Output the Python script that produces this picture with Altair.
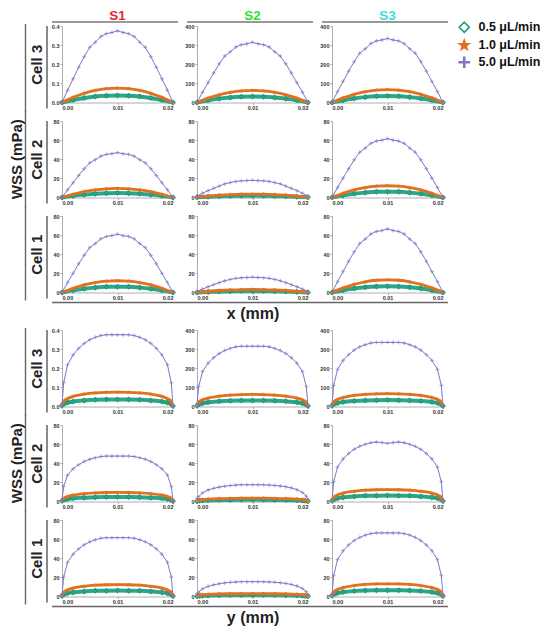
import altair as alt
import pandas as pd

FONT = "Liberation Sans"
SERIES = ["0.5 μL/min", "1.0 μL/min", "5.0 μL/min"]
COLS = ["S1", "S2", "S3"]
ROWS = ["Cell 3", "Cell 2", "Cell 1"]
HEADER_COLORS = ["#e8242c", "#2fe22f", "#3ddbe0"]
SECTION_TITLES = ["x (mm)", "y (mm)"]

X_TICKS = [0, 0.01, 0.02]
Y_TICKS_S1C3 = [0, 0.1, 0.2, 0.3, 0.4]
Y_TICKS_C3 = [0, 100, 200, 300, 400]
Y_TICKS_C12 = [0, 20, 40, 60, 80]

# sampling positions (mm)
GX_HI = [0.000, 0.001, 0.002, 0.003, 0.004, 0.005, 0.006, 0.007, 0.008, 0.009, 0.010,
         0.011, 0.012, 0.013, 0.014, 0.015, 0.016, 0.017, 0.018, 0.019, 0.020]
GX_LO = [0.000, 0.002, 0.004, 0.006, 0.008, 0.010, 0.012, 0.014, 0.016, 0.018, 0.020]
GY_HI = [0.0000, 0.0003, 0.0010, 0.0020, 0.0030, 0.0040, 0.0050, 0.0060, 0.0070, 0.0080,
         0.0090, 0.0100, 0.0110, 0.0120, 0.0130, 0.0140, 0.0150, 0.0160, 0.0170, 0.0180,
         0.0190, 0.0197, 0.0200]
GY_LO = [0.0000, 0.0005, 0.0010, 0.0020, 0.0040, 0.0060, 0.0080, 0.0100, 0.0120, 0.0140,
         0.0160, 0.0180, 0.0190, 0.0195, 0.0200]

# ---- x profiles ----
x_S1_C3_50 = [0, .064, .124, .184, .240, .289, .315, .345, .360, .366, .375, .366, .360, .345, .315, .289, .240, .184, .124, .064, 0]
x_S1_C3_10 = [0, .027, .048, .063, .072, .075, .072, .063, .048, .027, 0]
x_S1_C3_05 = [0, .0133, .0237, .0311, .0355, .037, .0355, .0311, .0237, .0133, 0]

x_S1_C2_50 = [0, 8.0, 15.5, 23.0, 30.1, 36.2, 39.5, 43.2, 45.1, 45.8, 47.0, 45.8, 45.1, 43.2, 39.5, 36.2, 30.1, 23.0, 15.5, 8.0, 0]
x_S1_C2_10 = [0, 3.4, 6.1, 8.0, 9.1, 9.5, 9.1, 8.0, 6.1, 3.4, 0]
x_S1_C2_05 = [0, 1.7, 3.0, 3.9, 4.5, 4.7, 4.5, 3.9, 3.0, 1.7, 0]

x_S1_C1_50 = [0, 10.4, 20.1, 29.9, 39.0, 47.0, 51.2, 56.1, 58.6, 59.5, 61.0, 59.5, 58.6, 56.1, 51.2, 47.0, 39.0, 29.9, 20.1, 10.4, 0]
x_S1_C1_10 = [0, 4.4, 7.9, 10.3, 11.8, 12.3, 11.8, 10.3, 7.9, 4.4, 0]
x_S1_C1_05 = [0, 2.2, 3.9, 5.1, 5.9, 6.1, 5.9, 5.1, 3.9, 2.2, 0]

x_S2_C3_50 = [0, 53.6, 104, 154, 202, 243, 265, 290, 302, 307, 315, 307, 302, 290, 265, 243, 202, 154, 104, 53.6, 0]
x_S2_C3_10 = [0, 22.7, 40.3, 52.9, 60.5, 63.0, 60.5, 52.9, 40.3, 22.7, 0]
x_S2_C3_05 = [0, 11.3, 20.2, 26.5, 30.2, 31.5, 30.2, 26.5, 20.2, 11.3, 0]

x_S2_C2_50 = [1.5, 4.5, 7.2, 9.6, 11.9, 14.2, 15.6, 16.8, 17.4, 17.7, 18.0, 17.7, 17.4, 16.8, 15.6, 14.2, 11.9, 9.6, 7.2, 4.5, 1.5]
x_S2_C2_10 = [0.3, 1.5, 2.4, 3.1, 3.5, 3.6, 3.5, 3.1, 2.4, 1.5, 0.3]
x_S2_C2_05 = [0.15, 0.75, 1.2, 1.55, 1.75, 1.8, 1.75, 1.55, 1.2, 0.75, 0.15]

x_S2_C1_50 = [1.0, 3.6, 6.0, 8.2, 10.3, 12.3, 13.7, 14.8, 15.4, 15.7, 16.0, 15.7, 15.4, 14.8, 13.7, 12.3, 10.3, 8.2, 6.0, 3.6, 1.0]
x_S2_C1_10 = [0.2, 1.3, 2.1, 2.7, 3.1, 3.2, 3.1, 2.7, 2.1, 1.3, 0.2]
x_S2_C1_05 = [0.1, 0.65, 1.05, 1.35, 1.55, 1.6, 1.55, 1.35, 1.05, 0.65, 0.1]

x_S3_C3_50 = [0, 57, 110.5, 164, 214, 258, 281, 308, 322, 327, 335, 327, 322, 308, 281, 258, 214, 164, 110.5, 57, 0]
x_S3_C3_10 = [0, 24.1, 42.9, 56.3, 64.3, 67.0, 64.3, 56.3, 42.9, 24.1, 0]
x_S3_C3_05 = [0, 12.1, 21.4, 28.1, 32.2, 33.5, 32.2, 28.1, 21.4, 12.1, 0]

x_S3_C2_50 = [0, 10.5, 20.3, 30.1, 39.4, 47.4, 51.7, 56.6, 59.0, 60.0, 61.5, 60.0, 59.0, 56.6, 51.7, 47.4, 39.4, 30.1, 20.3, 10.5, 0]
x_S3_C2_10 = [0, 4.4, 7.9, 10.3, 11.8, 12.3, 11.8, 10.3, 7.9, 4.4, 0]
x_S3_C2_05 = [0, 2.2, 3.9, 5.1, 5.9, 6.1, 5.9, 5.1, 3.9, 2.2, 0]

x_S3_C1_50 = [0, 11.3, 21.9, 32.6, 42.6, 51.2, 55.9, 61.2, 63.8, 64.8, 66.5, 64.8, 63.8, 61.2, 55.9, 51.2, 42.6, 32.6, 21.9, 11.3, 0]
x_S3_C1_10 = [0, 4.8, 8.5, 11.2, 12.8, 13.3, 12.8, 11.2, 8.5, 4.8, 0]
x_S3_C1_05 = [0, 2.4, 4.2, 5.5, 6.3, 6.6, 6.3, 5.5, 4.2, 2.4, 0]

# ---- y profiles ----
y_S1_C3_50 = [.0075, .124, .218, .270, .304, .330, .349, .362, .371, .375, .375, .375, .375, .375, .371, .362, .349, .330, .304, .270, .218, .124, 0]
y_S1_C3_10 = [.011, .032, .041, .053, .065, .071, .074, .075, .074, .071, .065, .053, .041, .032, .006]
y_S1_C3_05 = [.0056, .0155, .0204, .0259, .0318, .0352, .0366, .037, .0366, .0352, .0318, .0259, .0204, .0155, .003]

y_S1_C2_50 = [0.95, 15.7, 27.6, 34.2, 38.5, 41.8, 44.2, 45.8, 47.0, 47.5, 47.5, 47.5, 47.5, 47.5, 47.0, 45.8, 44.2, 41.8, 38.5, 34.2, 27.6, 15.7, 0]
y_S1_C2_10 = [1.4, 4.0, 5.2, 6.7, 8.2, 9.0, 9.4, 9.5, 9.4, 9.0, 8.2, 6.7, 5.2, 4.0, 0.8]
y_S1_C2_05 = [0.7, 2.0, 2.6, 3.3, 4.0, 4.5, 4.65, 4.7, 4.65, 4.5, 4.0, 3.3, 2.6, 2.0, 0.4]

y_S1_C1_50 = [1.2, 20.3, 35.7, 44.3, 49.8, 54.1, 57.2, 59.3, 60.9, 61.5, 61.5, 61.5, 61.5, 61.5, 60.9, 59.3, 57.2, 54.1, 49.8, 44.3, 35.7, 20.3, 0]
y_S1_C1_10 = [1.9, 5.2, 6.8, 8.7, 10.7, 11.8, 12.3, 12.4, 12.3, 11.8, 10.7, 8.7, 6.8, 5.2, 1.0]
y_S1_C1_05 = [0.9, 2.6, 3.4, 4.3, 5.3, 5.9, 6.1, 6.2, 6.1, 5.9, 5.3, 4.3, 3.4, 2.6, 0.5]

y_S2_C3_50 = [6.3, 104, 183, 227, 255, 277, 293, 304, 312, 315, 315, 315, 315, 315, 312, 304, 293, 277, 255, 227, 183, 104, 0]
y_S2_C3_10 = [9.5, 26.5, 34.7, 44.1, 54.2, 59.9, 62.4, 63.0, 62.4, 59.9, 54.2, 44.1, 34.7, 26.5, 5.0]
y_S2_C3_05 = [4.7, 13.2, 17.3, 22.1, 27.1, 29.9, 31.2, 31.5, 31.2, 29.9, 27.1, 22.1, 17.3, 13.2, 2.5]

y_S2_C2_50 = [3.0, 5.0, 9.0, 12.0, 13.8, 15.0, 16.0, 16.7, 17.2, 17.5, 17.5, 17.5, 17.5, 17.4, 17.2, 16.8, 16.2, 15.4, 14.2, 12.4, 9.5, 5.5, 2.0]
y_S2_C2_10 = [0.6, 1.5, 1.9, 2.45, 3.0, 3.3, 3.45, 3.5, 3.45, 3.3, 3.0, 2.45, 1.9, 1.5, 0.4]
y_S2_C2_05 = [0.3, 0.75, 0.95, 1.2, 1.5, 1.65, 1.73, 1.75, 1.73, 1.65, 1.5, 1.2, 0.95, 0.75, 0.2]

y_S2_C1_50 = [2.6, 4.4, 8.0, 10.6, 12.2, 13.3, 14.2, 14.8, 15.2, 15.5, 15.5, 15.5, 15.5, 15.4, 15.2, 14.9, 14.4, 13.6, 12.6, 11.0, 8.4, 4.9, 1.8]
y_S2_C1_10 = [0.5, 1.3, 1.7, 2.2, 2.7, 2.9, 3.05, 3.1, 3.05, 2.9, 2.7, 2.2, 1.7, 1.3, 0.3]
y_S2_C1_05 = [0.25, 0.65, 0.85, 1.1, 1.35, 1.47, 1.53, 1.55, 1.53, 1.47, 1.35, 1.1, 0.85, 0.65, 0.15]

y_S3_C3_50 = [6.7, 111, 194, 241, 271, 295, 312, 323, 332, 335, 335, 335, 335, 335, 332, 323, 312, 295, 271, 241, 194, 111, 0]
y_S3_C3_10 = [10.0, 28.1, 36.9, 46.9, 57.6, 63.7, 66.3, 67.0, 66.3, 63.7, 57.6, 46.9, 36.9, 28.1, 5.4]
y_S3_C3_05 = [5.0, 14.1, 18.4, 23.5, 28.8, 31.8, 33.2, 33.5, 33.2, 31.8, 28.8, 23.5, 18.4, 14.1, 2.7]

y_S3_C2_50 = [1.2, 20.5, 36.0, 44.6, 50.2, 54.6, 57.7, 59.8, 61.4, 62.2, 61.6, 60.8, 61.6, 62.2, 61.4, 59.8, 57.7, 54.6, 50.2, 44.6, 36.0, 20.5, 0]
y_S3_C2_10 = [1.9, 5.2, 6.8, 8.7, 10.7, 11.8, 12.3, 12.4, 12.3, 11.8, 10.7, 8.7, 6.8, 5.2, 1.0]
y_S3_C2_05 = [0.9, 2.6, 3.4, 4.3, 5.3, 5.9, 6.1, 6.2, 6.1, 5.9, 5.3, 4.3, 3.4, 2.6, 0.5]

y_S3_C1_50 = [1.3, 21.9, 38.6, 47.9, 53.9, 58.5, 61.8, 64.2, 65.8, 66.5, 66.5, 66.5, 66.5, 66.5, 65.8, 64.2, 61.8, 58.5, 53.9, 47.9, 38.6, 21.9, 0]
y_S3_C1_10 = [2.0, 5.6, 7.3, 9.3, 11.4, 12.6, 13.2, 13.3, 13.2, 12.6, 11.4, 9.3, 7.3, 5.6, 1.1]
y_S3_C1_05 = [1.0, 2.8, 3.6, 4.6, 5.7, 6.3, 6.5, 6.6, 6.5, 6.3, 5.7, 4.6, 3.6, 2.8, 0.5]

CURVES = {
    ("x", "S1", "Cell 3"): (x_S1_C3_05, x_S1_C3_10, x_S1_C3_50),
    ("x", "S1", "Cell 2"): (x_S1_C2_05, x_S1_C2_10, x_S1_C2_50),
    ("x", "S1", "Cell 1"): (x_S1_C1_05, x_S1_C1_10, x_S1_C1_50),
    ("x", "S2", "Cell 3"): (x_S2_C3_05, x_S2_C3_10, x_S2_C3_50),
    ("x", "S2", "Cell 2"): (x_S2_C2_05, x_S2_C2_10, x_S2_C2_50),
    ("x", "S2", "Cell 1"): (x_S2_C1_05, x_S2_C1_10, x_S2_C1_50),
    ("x", "S3", "Cell 3"): (x_S3_C3_05, x_S3_C3_10, x_S3_C3_50),
    ("x", "S3", "Cell 2"): (x_S3_C2_05, x_S3_C2_10, x_S3_C2_50),
    ("x", "S3", "Cell 1"): (x_S3_C1_05, x_S3_C1_10, x_S3_C1_50),
    ("y", "S1", "Cell 3"): (y_S1_C3_05, y_S1_C3_10, y_S1_C3_50),
    ("y", "S1", "Cell 2"): (y_S1_C2_05, y_S1_C2_10, y_S1_C2_50),
    ("y", "S1", "Cell 1"): (y_S1_C1_05, y_S1_C1_10, y_S1_C1_50),
    ("y", "S2", "Cell 3"): (y_S2_C3_05, y_S2_C3_10, y_S2_C3_50),
    ("y", "S2", "Cell 2"): (y_S2_C2_05, y_S2_C2_10, y_S2_C2_50),
    ("y", "S2", "Cell 1"): (y_S2_C1_05, y_S2_C1_10, y_S2_C1_50),
    ("y", "S3", "Cell 3"): (y_S3_C3_05, y_S3_C3_10, y_S3_C3_50),
    ("y", "S3", "Cell 2"): (y_S3_C2_05, y_S3_C2_10, y_S3_C2_50),
    ("y", "S3", "Cell 1"): (y_S3_C1_05, y_S3_C1_10, y_S3_C1_50),
}

TEAL, ORANGE, PURPLE = "#2fa68b", "#e2701f", "#7d77c9"
STAR = "M0,-1L0.235,-0.324L0.951,-0.309L0.38,0.124L0.588,0.809L0,0.4L-0.588,0.809L-0.38,0.124L-0.951,-0.309L-0.235,-0.324Z"
PLUS = "M-1,-0.1H1V0.1H-1Z M-0.1,-1H0.1V1H-0.1Z"

W, H = 111, 76.5
GAP_COL, GAP_ROW = 24, 18

LEG = alt.Legend(title=None, orient="none", legendX=396, legendY=-5, labelFontSize=12.5,
                 labelFont=FONT, labelFontWeight="bold", labelColor="#111", symbolSize=100,
                 symbolStrokeWidth=1.6, rowPadding=1, labelOffset=8, padding=0)
SHAPE = alt.Shape("series:N", scale=alt.Scale(domain=SERIES, range=["diamond", STAR, PLUS]), legend=LEG)
FILL = alt.Fill("series:N", scale=alt.Scale(domain=SERIES, range=["#ffffff", ORANGE, PURPLE]), legend=LEG)
STROKE = alt.Stroke("series:N", scale=alt.Scale(domain=SERIES, range=["#1b9c77", ORANGE, PURPLE]), legend=LEG)

ONE = pd.DataFrame({"d": [0]})


def panel(si, ci, ri):
    sec = "xy"[si]
    s, cell = COLS[ci], ROWS[ri]
    v05, v10, v50 = CURVES[(sec, s, cell)]
    ghi = GX_HI if sec == "x" else GY_HI
    glo = GX_LO if sec == "x" else GY_LO
    df = pd.concat([
        pd.DataFrame({"x": glo, "v": v05, "series": SERIES[0]}),
        pd.DataFrame({"x": glo, "v": v10, "series": SERIES[1]}),
        pd.DataFrame({"x": ghi, "v": v50, "series": SERIES[2]}),
    ], ignore_index=True)

    if cell == "Cell 3":
        yt = Y_TICKS_S1C3 if s == "S1" else Y_TICKS_C3
        fmt = ".1f" if s == "S1" else "d"
    else:
        yt, fmt = Y_TICKS_C12, "d"

    xa = dict(values=X_TICKS, format=".2f")
    if ri == 2 and ci == 1:
        xa.update(title=SECTION_TITLES[si], titleY=21, titleBaseline="middle",
                  titleFontSize=16, titleFontWeight="bold", titleColor="#222", titleFont=FONT)
    else:
        xa.update(title=None)
    ya = dict(values=yt, format=fmt)
    if ci == 0:
        ya.update(title=cell, titleX=-25.5, titleY=H / 2, titleAngle=270, titleAlign="center",
                  titleBaseline="middle", titleFontSize=15, titleFontWeight="bold",
                  titleColor="#222", titleFont=FONT)
    else:
        ya.update(title=None)

    enc = dict(
        x=alt.X("x:Q", scale=alt.Scale(domain=[X_TICKS[0], X_TICKS[-1]], nice=False), axis=alt.Axis(**xa)),
        y=alt.Y("v:Q", scale=alt.Scale(domain=[yt[0], yt[-1]], nice=False), axis=alt.Axis(**ya)),
    )
    base = alt.Chart(df)
    styles = [
        (TEAL, 4.0, "monotone", dict(size=20, strokeWidth=1.1, fillOpacity=0)),
        (ORANGE, 2.8, "monotone", dict(size=14, strokeWidth=0.6)),
        (PURPLE, 1.0, "linear", dict(size=12, strokeWidth=0.5)),
    ]
    layers = []
    for k, (col, sw, interp, pt) in enumerate(styles):
        sub = base.transform_filter(alt.datum.series == SERIES[k])
        layers.append(sub.mark_line(color=col, strokeWidth=sw, interpolate=interp).encode(**enc))
        layers.append(sub.mark_point(filled=True, **pt).encode(shape=SHAPE, fill=FILL, stroke=STROKE, **enc))

    deco = alt.Chart(ONE)
    if ci == 0:
        layers.append(deco.mark_rule(color="#8a8a8a", strokeWidth=2).encode(
            x=alt.value(-15), y=alt.value(0), y2=alt.value(H + 6)))
        y1 = -2 if ri == 0 else -10
        y2 = H + 8 if ri == 2 else H + 10
        layers.append(deco.mark_rule(color="#666666", strokeWidth=1.4).encode(
            x=alt.value(-36.5), y=alt.value(y1), y2=alt.value(y2)))
        if ri == 1:
            layers.append(deco.mark_text(text="WSS (mPa)", angle=270, fontSize=15, fontWeight="bold",
                                         font=FONT, color="#222", align="center", baseline="middle").encode(
                x=alt.value(-45), y=alt.value(H / 2)))
    if ri == 2 and ci == 1:
        layers.append(deco.mark_rule(color="#666666", strokeWidth=1.4).encode(
            x=alt.value(-(W + GAP_COL) - 10), x2=alt.value(2 * W + GAP_COL + 5), y=alt.value(H + 10)))
    if si == 0 and ri == 0:
        layers.append(deco.mark_rule(color="#777777", strokeWidth=1.4).encode(
            x=alt.value(-10), x2=alt.value(W + 5), y=alt.value(-4)))
        layers.append(deco.mark_text(text=s, color=HEADER_COLORS[ci], fontSize=13.5, fontWeight="bold",
                                     font=FONT, align="center", baseline="alphabetic").encode(
            x=alt.value(W / 2), y=alt.value(-6.5)))
    return alt.layer(*layers).properties(width=W, height=H)


def spacer():
    return alt.Chart(ONE).mark_point(opacity=0).encode(
        x=alt.value(0), y=alt.value(0)).properties(width=W, height=1)


cells = []
for ri in range(3):
    cells += [panel(0, ci, ri) for ci in range(3)]
cells += [spacer() for _ in range(3)]
for ri in range(3):
    cells += [panel(1, ci, ri) for ci in range(3)]

chart = alt.concat(*cells, columns=3, spacing={"row": GAP_ROW, "column": GAP_COL}, bounds="flush").properties(
    padding={"left": 2, "top": 0, "right": 0, "bottom": 0}
).configure(font=FONT).configure_view(strokeWidth=0).configure_axis(
    grid=False, domainColor="#9a9a9a", domainWidth=0.8, tickColor="#9a9a9a", tickSize=2,
    tickWidth=0.8, labelFontSize=5.5, labelFont=FONT, labelFontWeight="bold", labelColor="#333",
    labelPadding=1
)

chart.save("out.html", embed_options={"renderer": "svg", "actions": False})
